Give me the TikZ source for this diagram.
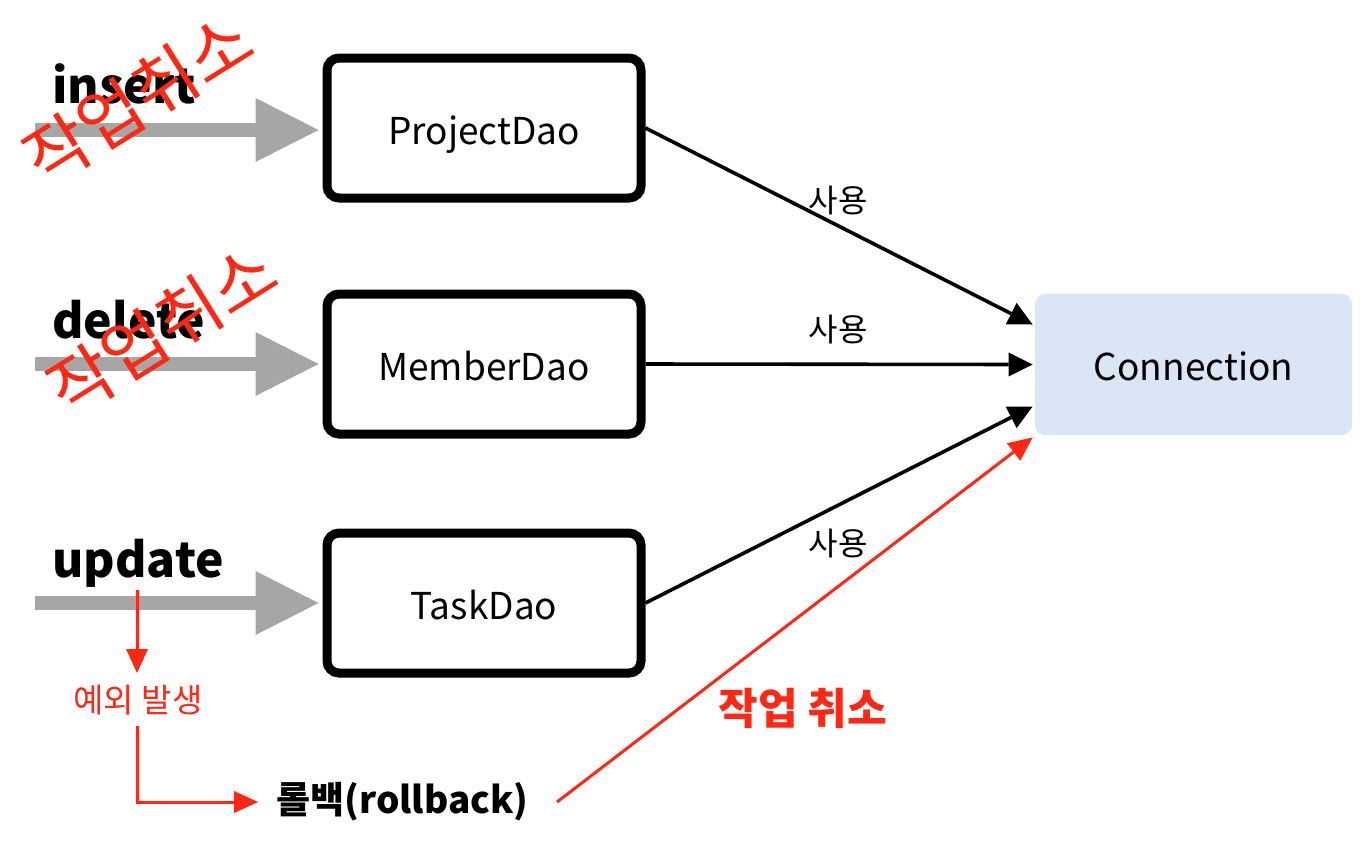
\documentclass[tikz,border=0pt]{standalone}
\usepackage{fontspec}
\setmainfont{Noto Sans CJK KR}
\usetikzlibrary{arrows.meta}
\definecolor{myred}{RGB}{255,40,20}
\definecolor{mygray}{RGB}{166,166,166}
\definecolor{connfill}{RGB}{218,230,246}
\tikzset{
  daobox/.style={draw=black, line width=4.5pt, rounded corners=6pt, minimum width=157pt, minimum height=70pt, inner sep=0pt, text height=16.3pt, text depth=0pt, font=\fontsize{18.5}{20}\selectfont},
  connbox/.style={fill=connfill, rounded corners=5pt, minimum width=158.5pt, minimum height=70.5pt, inner sep=0pt, text height=16.3pt, text depth=0pt, font=\fontsize{18.5}{20}\selectfont},
  oplabel/.style={anchor=base west, inner sep=0pt, font=\fontsize{24}{26}\selectfont\bfseries},
  grayarrow/.style={draw=mygray, line width=7pt, -{Triangle[length=31.5pt,width=32pt,line width=0pt]}, shorten >=2pt},
  usearrow/.style={draw=black, line width=1.8pt, -{Triangle[length=12pt,width=12pt,line width=0pt]}},
  redarrow/.style={draw=myred, line width=1.5pt, -{Triangle[length=12pt,width=11pt,line width=0pt]}},
  uselabel/.style={inner sep=0pt, font=\fontsize{16}{18}\selectfont},
  cancelrot/.style={inner sep=0pt, text=myred, rotate=32, font=\fontsize{34.5}{36}\selectfont},
}
\begin{document}
\begin{tikzpicture}[x=0.5pt,y=-0.5pt]
\useasboundingbox[fill=white] (0,0) rectangle (1370,848);

% DAO boxes
\node[daobox] (pd) at (484,128) {ProjectDao};
\node[daobox] (md) at (484,364) {MemberDao};
\node[daobox] (td) at (484,603) {TaskDao};
\node[connbox] (conn) at (1193.5,364.5) {Connection};

% operation labels
\node[oplabel] (ins) at (52,103) {insert};
\node[oplabel] (del) at (52,338) {delete};
\node[oplabel] (upd) at (52,577) {update};

% gray arrows
\coordinate (g1) at (35,130);
\coordinate (g2) at (35,364);
\coordinate (g3) at (35,603);
\draw[grayarrow] (g1) -- (g1 -| pd.west);
\draw[grayarrow] (g2) -- (g2 -| md.west);
\draw[grayarrow] (g3) -- (g3 -| td.west);

% usage arrows
\draw[usearrow] (pd.east) -- ([yshift=20pt,xshift=-1pt]conn.west);
\draw[usearrow] (md.east) -- ([xshift=-1pt]conn.west);
\draw[usearrow] (td.east) -- ([yshift=-21pt,xshift=-1pt]conn.west);
\node[uselabel] (u1) at (838,201) {사용};
\node[uselabel] (u2) at (838,330) {사용};
\node[uselabel] (u3) at (838,543) {사용};

% exception flow
\node[inner sep=0pt, text=myred, font=\fontsize{16.5}{18}\selectfont] (exc) at (138,700) {예외 발생};
\node[anchor=west, inner sep=0pt, font=\fontsize{18.5}{20}\selectfont\bfseries] (rb) at (276,802) {롤백(rollback)};
\coordinate (ustart) at (137,590);
\draw[redarrow] (ustart) -- (ustart |- 673,673);
\coordinate (ebot) at (137,726);
\draw[redarrow] (ebot) -- (137,802) -- ([xshift=-9pt]rb.west);
\draw[redarrow] ([xshift=14pt]rb.east) -- ([xshift=-1pt,yshift=-1pt]conn.south west);
\node[inner sep=0pt, text=myred, font=\fontsize{21.5}{23}\selectfont\bfseries] (cancel) at (803,708) {작업 취소};

% rotated cancel marks
\node[cancelrot] (c1) at (138,99) {작업취소};
\node[cancelrot] (c2) at (162,330) {작업취소};
\end{tikzpicture}
\end{document}
